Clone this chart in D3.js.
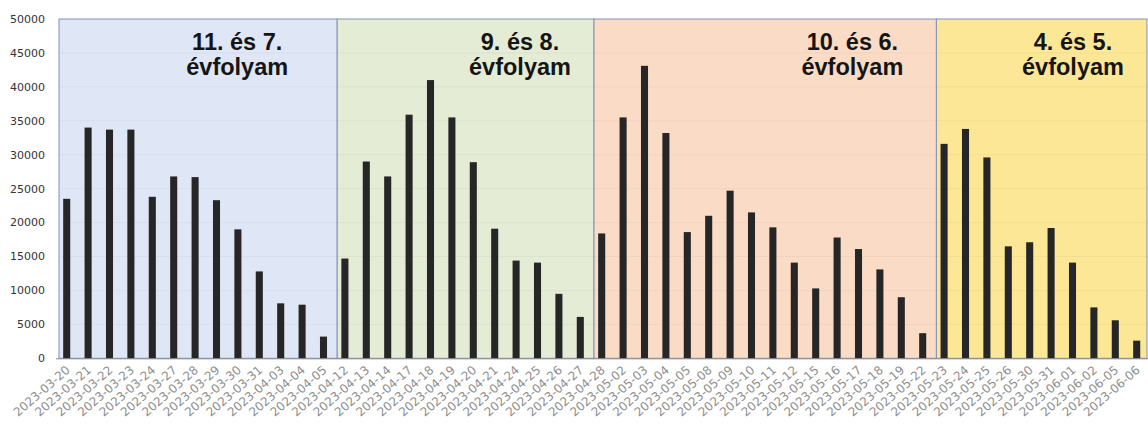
<!DOCTYPE html>
<html>
<head>
<meta charset="utf-8">
<script src="https://cdn.jsdelivr.net/npm/d3@7"></script>
<style>
  html, body { margin: 0; padding: 0; background: #ffffff; }
  svg { display: block; }
</style>
</head>
<body>
<svg id="chart" width="1148" height="427"></svg>
<script>
// ---------------- DATA ----------------
const dates = [
  "2023-03-20","2023-03-21","2023-03-22","2023-03-23","2023-03-24","2023-03-27","2023-03-28",
  "2023-03-29","2023-03-30","2023-03-31","2023-04-03","2023-04-04","2023-04-05",
  "2023-04-12","2023-04-13","2023-04-14","2023-04-17","2023-04-18","2023-04-19","2023-04-20",
  "2023-04-21","2023-04-24","2023-04-25","2023-04-26","2023-04-27",
  "2023-04-28","2023-05-02","2023-05-03","2023-05-04","2023-05-05","2023-05-08","2023-05-09",
  "2023-05-10","2023-05-11","2023-05-12","2023-05-15","2023-05-16","2023-05-17","2023-05-18",
  "2023-05-19","2023-05-22",
  "2023-05-23","2023-05-24","2023-05-25","2023-05-26","2023-05-30","2023-05-31","2023-06-01",
  "2023-06-02","2023-06-05","2023-06-06"
];
const values = [
  23500, 34000, 33700, 33700, 23800, 26800, 26700, 23300, 19000, 12800, 8100, 7900, 3200,
  14700, 29000, 26800, 35900, 41000, 35500, 28900, 19100, 14400, 14100, 9500, 6100,
  18400, 35500, 43100, 33200, 18600, 21000, 24700, 21500, 19300, 14100, 10300, 17800, 16100,
  13100, 9000, 3700,
  31600, 33800, 29600, 16500, 17100, 19200, 14100, 7500, 5600, 2600
];
const groupTitles = ["11. és 7.", "9. és 8.", "10. és 6.", "4. és 5."];
const groupSubtitle = "évfolyam";
const groupFirst = ["2023-03-20", "2023-04-12", "2023-04-28", "2023-05-23"];
const groupLast  = ["2023-04-05", "2023-04-27", "2023-05-22", "2023-06-06"];
const yTicks = [0, 5000, 10000, 15000, 20000, 25000, 30000, 35000, 40000, 45000, 50000];

// ---------------- LAYOUT / STYLE ----------------
const W = 1148, H = 427;
const plot = { left: 56, right: 1147.4, top: 19, bottom: 358.3 };
const groupFills = ["#dfe7f6", "#e4ecd6", "#fadcc6", "#fce796"];
const regionShift = 3;
const titleFromRight = [100, 74, 84, 74];

const svg = d3.select("#chart");

const x = d3.scaleBand()
  .domain(dates)
  .range([plot.left, plot.right])
  .paddingInner(0.67)
  .paddingOuter(0.335);

const y = d3.scaleLinear()
  .domain([0, 50000])
  .range([plot.bottom, plot.top]);

const step = x.step();
const center = d => x(d) + x.bandwidth() / 2;

// background regions
const regions = groupFirst.map((f, i) => {
  let x0 = center(f) - step / 2 + regionShift;
  let x1 = center(groupLast[i]) + step / 2 + regionShift;
  if (i === groupFirst.length - 1) x1 = Math.min(x1, W - 1);
  return { x0, x1, fill: groupFills[i], title: groupTitles[i], i };
});

svg.append("g").selectAll("rect")
  .data(regions)
  .join("rect")
  .attr("x", d => d.x0)
  .attr("y", y(50000))
  .attr("width", d => d.x1 - d.x0)
  .attr("height", y(0) - y(50000))
  .attr("fill", d => d.fill)
  .attr("stroke", "#7f93b8")
  .attr("stroke-width", 1);

// faint gridlines
svg.append("g").selectAll("line")
  .data(yTicks.filter(t => t > 0 && t < 50000))
  .join("line")
  .attr("x1", regions[0].x0)
  .attr("x2", regions[regions.length - 1].x1)
  .attr("y1", d => y(d))
  .attr("y2", d => y(d))
  .attr("stroke", "rgba(0,0,0,0.04)")
  .attr("stroke-width", 1);

// bars
svg.append("g").selectAll("rect")
  .data(dates.map((d, i) => ({ d, v: values[i] })))
  .join("rect")
  .attr("x", d => x(d.d))
  .attr("y", d => y(d.v))
  .attr("width", x.bandwidth())
  .attr("height", d => y(0) - y(d.v))
  .attr("fill", "#262626");

// baseline
svg.append("line")
  .attr("x1", plot.left)
  .attr("x2", W)
  .attr("y1", y(0) + 0.5)
  .attr("y2", y(0) + 0.5)
  .attr("stroke", "#8a8a8a")
  .attr("stroke-width", 1);

// y axis labels
svg.append("g").selectAll("text")
  .data(yTicks)
  .join("text")
  .attr("x", 45)
  .attr("y", d => y(d))
  .attr("dy", "0.35em")
  .attr("text-anchor", "end")
  .attr("font-family", "DejaVu Sans, sans-serif")
  .attr("font-size", 11)
  .attr("fill", "#333")
  .text(d => d);

// x axis labels
svg.append("g").selectAll("text")
  .data(dates)
  .join("text")
  .attr("transform", d => `translate(${center(d) + 4},${y(0) + 13}) rotate(-41)`)
  .attr("text-anchor", "end")
  .attr("font-family", "DejaVu Sans, sans-serif")
  .attr("font-size", 12)
  .attr("fill", "#8e8e8e")
  .text(d => d);

// group titles
const tg = svg.append("g")
  .attr("font-family", "Liberation Sans, Arial, sans-serif")
  .attr("font-weight", "bold")
  .attr("font-size", 23.5)
  .attr("fill", "#151515")
  .attr("text-anchor", "middle");

tg.selectAll("text.t1")
  .data(regions)
  .join("text")
  .attr("class", "t1")
  .attr("x", d => d.x1 - titleFromRight[d.i])
  .attr("y", 50)
  .text(d => d.title);

tg.selectAll("text.t2")
  .data(regions)
  .join("text")
  .attr("class", "t2")
  .attr("x", d => d.x1 - titleFromRight[d.i])
  .attr("y", 75)
  .text(groupSubtitle);
</script>
</body>
</html>
